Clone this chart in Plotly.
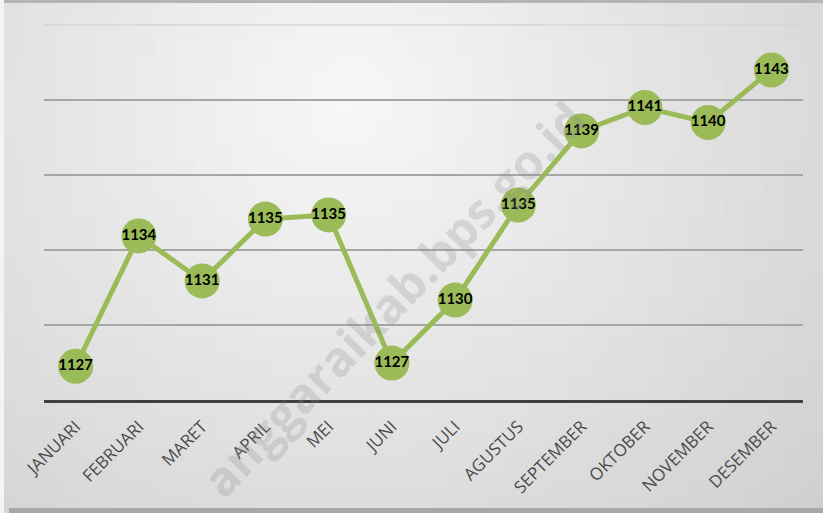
import math
import plotly.graph_objects as go

months = ["JANUARI", "FEBRUARI", "MARET", "APRIL", "MEI", "JUNI", "JULI",
          "AGUSTUS", "SEPTEMBER", "OKTOBER", "NOVEMBER", "DESEMBER"]
values = [1126.8, 1133.75, 1131.35, 1134.65, 1134.87, 1126.97, 1130.33,
          1135.4, 1139.35, 1140.6, 1139.8, 1142.6]
labels = ["1127", "1134", "1131", "1135", "1135", "1127", "1130",
          "1135", "1139", "1141", "1140", "1143"]

W, H = 823, 513
GREEN = "#9BBB59"

fig = go.Figure()
fig.add_trace(go.Scatter(
    x=months, y=values, mode="lines+markers+text",
    line=dict(color=GREEN, width=5),
    marker=dict(size=35, color=GREEN, line=dict(width=0)),
    text=labels, textposition="middle center",
    textfont=dict(family="Lato", size=15, color="#000000", weight="bold"),
    cliponaxis=False, hoverinfo="skip", showlegend=False,
))

def px_x(p):
    return (p - 44) / 759

def px_y(p):
    return 1 - (p - 25) / 375

# background gradient (styling only)
shapes = []
nx, ny = 42, 26
for i in range(nx):
    for j in range(ny):
        cx = (i + 0.5) / nx
        cy = (j + 0.5) / ny
        d = math.sqrt(((cx - 0.42) / 0.8) ** 2 + ((cy - 0.2) / 1.2) ** 2)
        c = int(round(247 - 40 * d))
        c = max(190, min(250, c))
        shapes.append(dict(type="rect", xref="paper", yref="paper",
                           x0=px_x(i * W / nx) - 0.0005,
                           x1=px_x((i + 1) * W / nx) + 0.0005,
                           y0=px_y((j + 1) * H / ny) - 0.0005,
                           y1=px_y(j * H / ny) + 0.0005,
                           fillcolor=f"rgb({c},{c},{c})", line=dict(width=0),
                           layer="below"))
# frame: top border and bottom shadow
shapes.append(dict(type="rect", xref="paper", yref="paper",
                   x0=px_x(4), x1=px_x(823), y0=px_y(3), y1=px_y(0),
                   fillcolor="#b4b4b4", line=dict(width=0), layer="below"))
shapes.append(dict(type="rect", xref="paper", yref="paper",
                   x0=px_x(9), x1=px_x(823), y0=px_y(513), y1=px_y(508),
                   fillcolor="#a8a8a8", line=dict(width=0), layer="below"))
shapes.append(dict(type="rect", xref="paper", yref="paper",
                   x0=px_x(0), x1=px_x(4), y0=px_y(513), y1=px_y(0),
                   fillcolor="#f4f4f4", line=dict(width=0), layer="below"))
# faint top gridline
shapes.append(dict(type="line", xref="paper", yref="paper",
                   x0=0, x1=1, y0=1, y1=1,
                   line=dict(color="#d6d6d6", width=1.5), layer="below"))

fig.update_layout(
    width=W, height=H,
    margin=dict(l=44, r=20, t=25, b=113),
    paper_bgcolor="#e6e6e6", plot_bgcolor="rgba(0,0,0,0)",
    shapes=shapes,
    xaxis=dict(type="category", range=[-0.5, 11.5], showgrid=False,
               showline=True, linecolor="#404040", linewidth=3,
               tickangle=-45, ticks="", ticklabelstandoff=7,
               tickfont=dict(family="Open Sans", size=17, color="#4a4a4a"),
               zeroline=False, fixedrange=True),
    yaxis=dict(range=[1125, 1145], dtick=4, tick0=1125, showticklabels=False,
               showgrid=True, gridcolor="#a6a6a6", gridwidth=1.5,
               zeroline=False, showline=False, fixedrange=True),
    annotations=[dict(
        text="anggaraikab.bps.go.id", xref="paper", yref="paper",
        x=px_x(393), y=px_y(298), xanchor="center", yanchor="middle",
        showarrow=False, textangle=-46,
        font=dict(family="Open Sans", size=48, color="rgba(140,140,140,0.25)",
                  weight="bold"),
    )],
)

fig.write_html("out.html",
               config={"displayModeBar": False},
               post_script="document.body.style.margin='0';document.body.style.overflow='hidden';")
